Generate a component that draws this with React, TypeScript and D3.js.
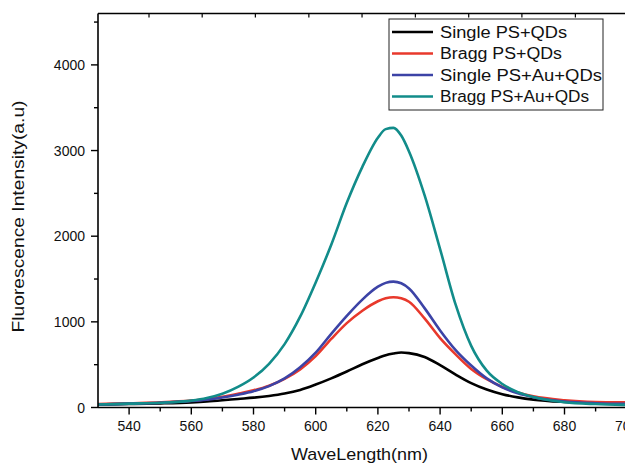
import React from "react";
import * as d3 from "d3";

const wavelengths = [530, 540, 550, 560, 565, 570, 575, 580, 585, 590, 595, 600, 605, 610, 615, 620, 622.5, 625, 627.5, 630, 635, 640, 645, 650, 655, 660, 665, 670, 680, 690, 700, 710];

const singleQDs = [35, 40, 48, 60, 70, 84, 100, 115, 135, 163, 205, 268, 340, 420, 505, 578, 610, 630, 642, 635, 590, 495, 385, 285, 210, 155, 118, 92, 65, 52, 45, 42];
const braggQDs = [40, 50, 60, 80, 98, 125, 160, 200, 255, 335, 445, 600, 800, 985, 1130, 1240, 1275, 1288, 1275, 1235, 1040, 810, 620, 450, 330, 240, 175, 130, 85, 65, 60, 58];
const singleAuQDs = [35, 45, 55, 75, 92, 117, 150, 190, 250, 340, 470, 640, 860, 1070, 1260, 1410, 1455, 1470, 1450, 1390, 1160, 900, 670, 490, 340, 235, 165, 120, 70, 50, 42, 40];
const braggAuQDs = [35, 45, 55, 80, 110, 160, 240, 350, 510, 740, 1060, 1460, 1900, 2390, 2810, 3150, 3250, 3265, 3175, 2990, 2480, 1850, 1200, 720, 430, 275, 180, 122, 62, 40, 30, 25];

const seriesNames = ["Single PS+QDs", "Bragg PS+QDs", "Single PS+Au+QDs", "Bragg PS+Au+QDs"];
const seriesColors = ["#000000", "#e8392c", "#3c43a6", "#128c8a"];
const seriesValues = [singleQDs, braggQDs, singleAuQDs, braggAuQDs];
const legendWidths = [127, 122, 162, 149];

const xMajorTicks = [540, 560, 580, 600, 620, 640, 660, 680, 700];
const xMinorTicks = [550, 570, 590, 610, 630, 650, 670, 690];
const yMajorTicks = [0, 1000, 2000, 3000, 4000];
const yMinorTicks = [500, 1500, 2500, 3500, 4500];
const topTicks = [546.4, 563.5, 580.6, 597.8, 614.9, 632.05, 649.2, 666.3, 683.5];

const W = 625;
const H = 465;
const left = 98;
const top = 13.5;
const bottom = 407.5;

export default function App() {
  const x = d3.scaleLinear().domain([530, 710]).range([left, left + 180 * 3.11]);
  const y = d3.scaleLinear().domain([0, 4600]).range([bottom, top]);
  const line = d3
    .line<number>()
    .x((_, i) => x(wavelengths[i]))
    .y((d) => y(d))
    .curve(d3.curveMonotoneX);

  const font = "'Liberation Sans', Arial, sans-serif";
  const legendX = 389;
  const legendY = 19;
  const rowYs = [32, 53.5, 75, 96.5];

  return (
    <svg
      width={W}
      height={H}
      style={{ position: "absolute", left: 0, top: 0, background: "#fff" }}
      fontFamily={font}
    >
      <defs>
        <clipPath id="plot">
          <rect x={left} y={top} width={W - left} height={bottom - top} />
        </clipPath>
      </defs>
      <rect x={0} y={0} width={W} height={H} fill="#fff" />

      <g clipPath="url(#plot)">
        {seriesValues.map((vals, i) => (
          <path
            key={i}
            d={line(vals) || ""}
            fill="none"
            stroke={seriesColors[i]}
            strokeWidth={2.6}
            strokeLinejoin="round"
          />
        ))}
      </g>

      {/* axes */}
      <line x1={left} x2={W} y1={bottom} y2={bottom} stroke="#000" strokeWidth={1.6} />
      <line x1={left} x2={left} y1={top} y2={bottom} stroke="#000" strokeWidth={1.6} />
      <line x1={left} x2={W} y1={top} y2={top} stroke="#000" strokeWidth={1.6} />

      {topTicks.map((t) => (
        <line key={"tt" + t} x1={x(t)} x2={x(t)} y1={top} y2={top + 4} stroke="#000" strokeWidth={1.2} />
      ))}

      {xMajorTicks.map((t) => (
        <g key={"xm" + t}>
          <line x1={x(t)} x2={x(t)} y1={bottom} y2={bottom + 7} stroke="#000" strokeWidth={1.4} />
          <text x={x(t)} y={431} textAnchor="middle" fontSize={14} fill="#111">
            {t}
          </text>
        </g>
      ))}
      {xMinorTicks.map((t) => (
        <line key={"xn" + t} x1={x(t)} x2={x(t)} y1={bottom} y2={bottom + 4} stroke="#000" strokeWidth={1.4} />
      ))}

      {yMajorTicks.map((t) => (
        <g key={"ym" + t}>
          <line x1={left - 7} x2={left} y1={y(t)} y2={y(t)} stroke="#000" strokeWidth={1.4} />
          <text x={85} y={y(t) + 5} textAnchor="end" fontSize={14} fill="#111">
            {t}
          </text>
        </g>
      ))}
      {yMinorTicks.map((t) => (
        <line key={"yn" + t} x1={left - 4} x2={left} y1={y(t)} y2={y(t)} stroke="#000" strokeWidth={1.4} />
      ))}

      <text
        x={359.5}
        y={460}
        textAnchor="middle"
        fontSize={17}
        fill="#111"
        textLength={137}
        lengthAdjust="spacingAndGlyphs"
      >
        WaveLength(nm)
      </text>
      <text
        transform="translate(23.5,216.5) rotate(-90)"
        textAnchor="middle"
        fontSize={16}
        fill="#111"
        textLength={232}
        lengthAdjust="spacingAndGlyphs"
      >
        Fluorescence Intensity(a.u)
      </text>

      {/* legend */}
      <rect x={legendX} y={legendY} width={603 - legendX} height={110 - legendY} fill="#fff" stroke="#222" strokeWidth={1} />
      {seriesNames.map((name, i) => (
        <g key={name}>
          <line x1={392} x2={433} y1={rowYs[i]} y2={rowYs[i]} stroke={seriesColors[i]} strokeWidth={2.6} />
          <text
            x={440}
            y={rowYs[i] + 5.7}
            fontSize={16}
            fill="#111"
            textLength={legendWidths[i]}
            lengthAdjust="spacingAndGlyphs"
          >
            {name}
          </text>
        </g>
      ))}
    </svg>
  );
}
